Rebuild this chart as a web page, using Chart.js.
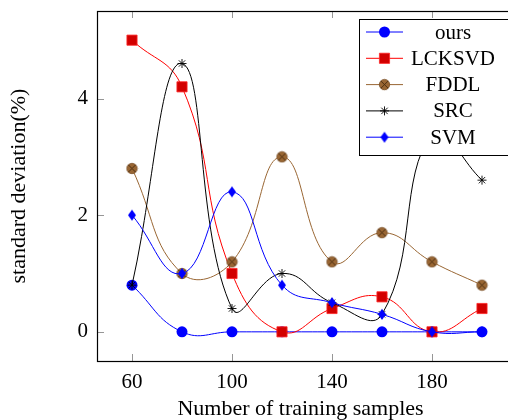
<!DOCTYPE html>
<html>
<head>
<meta charset="utf-8">
<script src="https://cdn.jsdelivr.net/npm/chart.js@4/dist/chart.umd.min.js"></script>
<style>
html,body{margin:0;padding:0;background:#fff;overflow:hidden;}
#wrap{width:530px;height:420px;}
</style>
</head>
<body>
<div id="wrap"><canvas id="c" width="530" height="420"></canvas></div>
<script>
// ---- data ----
const samples = [60, 80, 100, 120, 140, 160, 180, 200];
const ours   = [0.8, 0, 0, 0, 0, 0, 0, 0];
const lcksvd = [5.0, 4.2, 1.0, 0, 0.4, 0.6, 0, 0.4];
const fddl   = [2.8, 1.0, 1.2, 3.0, 1.2, 1.7, 1.2, 0.8];
const src    = [0.8, 4.6, 0.4, 1.0, 0.5, 0.3, 3.4, 2.6];
const svm    = [2.0, 1.0, 2.4, 0.8, 0.5, 0.3, 0, 0];
const seriesNames = ['ours', 'LCKSVD', 'FDDL', 'SRC', 'SVM'];
const xTicks = [60, 100, 140, 180];
const yTicks = [0, 2, 4];
const xTitle = 'Number of training samples';
const yTitle = 'standard deviation(%)';

const FONT = '"Liberation Serif", "DejaVu Serif", serif';
const FS = 21;
const TFS = 22;

function pts(vals){ return samples.map((x,i)=>({x:x,y:vals[i]})); }

function otimes(r, fill, stroke){
  const c = document.createElement('canvas');
  const s = Math.ceil(r*2+2); c.width = s; c.height = s;
  const g = c.getContext('2d'); const m = s/2;
  g.beginPath(); g.arc(m,m,r,0,Math.PI*2); g.fillStyle = fill; g.fill();
  g.lineWidth = 0.8; g.strokeStyle = stroke; g.stroke();
  const d = r*0.7;
  g.beginPath(); g.moveTo(m-d,m-d); g.lineTo(m+d,m+d); g.moveTo(m+d,m-d); g.lineTo(m-d,m+d);
  g.lineWidth = 0.9; g.strokeStyle = 'rgba(60,35,10,0.9)'; g.stroke();
  return c;
}
function diamond(w, h, fill){
  const c = document.createElement('canvas');
  c.width = Math.ceil(w+2); c.height = Math.ceil(h+2);
  const g = c.getContext('2d'); const mx = c.width/2, my = c.height/2;
  g.beginPath(); g.moveTo(mx,my-h/2); g.lineTo(mx+w/2,my); g.lineTo(mx,my+h/2); g.lineTo(mx-w/2,my); g.closePath();
  g.fillStyle = fill; g.fill();
  return c;
}
const BROWN = 'rgb(153,102,51)';
const fddlMarker = otimes(5.2, 'rgb(153,102,51)', 'rgb(120,78,38)');
const svmMarker = diamond(8, 11, 'rgb(0,0,255)');

const datasets = [
  {label: seriesNames[0], data: pts(ours), borderColor:'rgb(0,0,255)', backgroundColor:'rgb(0,0,255)',
   pointStyle:'circle', pointRadius:5.5, pointBorderWidth:0, order:5},
  {label: seriesNames[1], data: pts(lcksvd), borderColor:'rgb(255,0,0)', backgroundColor:'rgb(210,0,0)',
   pointBorderColor:'rgb(255,40,40)', pointStyle:'rect', pointRadius:7.2, pointBorderWidth:0.8, order:4},
  {label: seriesNames[2], data: pts(fddl), borderColor:BROWN, backgroundColor:BROWN,
   pointStyle:fddlMarker, pointRadius:5, order:3},
  {label: seriesNames[3], data: pts(src), borderColor:'rgb(0,0,0)', backgroundColor:'rgb(0,0,0)',
   pointStyle:'star', pointRadius:4.5, pointBorderWidth:0.9, pointBorderColor:'rgb(0,0,0)', order:2},
  {label: seriesNames[4], data: pts(svm), borderColor:'rgb(0,0,255)', backgroundColor:'rgb(0,0,255)',
   pointStyle:svmMarker, pointRadius:5, order:1}
];
datasets.forEach(d=>{ d.borderWidth = 1; d.tension = 0.45; d.fill = false; d.pointHoverRadius = d.pointRadius; });

const framePlugin = {
  id:'frame',
  afterDatasetsDraw(chart){
    const {ctx, chartArea:a, scales:{x,y}} = chart;
    ctx.save();
    ctx.strokeStyle = 'rgb(150,150,150)'; ctx.lineWidth = 1;
    ctx.beginPath();
    xTicks.forEach(v=>{ const px = Math.round(x.getPixelForValue(v))+0.5;
      ctx.moveTo(px,a.bottom); ctx.lineTo(px,a.bottom-7);
      ctx.moveTo(px,a.top); ctx.lineTo(px,a.top+7); });
    yTicks.forEach(v=>{ const py = Math.round(y.getPixelForValue(v))+0.5;
      ctx.moveTo(a.left,py); ctx.lineTo(a.left+7,py);
      ctx.moveTo(a.right,py); ctx.lineTo(a.right-7,py); });
    ctx.stroke();
    ctx.strokeStyle = '#000'; ctx.lineWidth = 1.2;
    ctx.strokeRect(Math.round(a.left)+0.5, Math.round(a.top)+0.5, Math.round(a.right-a.left), Math.round(a.bottom-a.top));
    // x-axis title
    ctx.fillStyle = '#000'; ctx.font = TFS + 'px ' + FONT; ctx.textAlign = 'center'; ctx.textBaseline = 'alphabetic';
    ctx.fillText(xTitle, 300.5, 415);
    // legend
    const lx = 359.5, ly = 19.5, lw = 200, lh = 136;
    ctx.fillStyle = '#fff'; ctx.fillRect(lx, ly, lw, lh);
    ctx.strokeStyle = '#000'; ctx.lineWidth = 1; ctx.strokeRect(lx, ly, lw, lh);
    ctx.font = FS + 'px ' + FONT; ctx.textAlign = 'center'; ctx.textBaseline = 'middle';
    chart.data.datasets.forEach((d,i)=>{
      const cy = 32 + i*26.3;
      ctx.strokeStyle = d.borderColor; ctx.lineWidth = 1;
      ctx.beginPath(); ctx.moveTo(366, cy); ctx.lineTo(403, cy); ctx.stroke();
      ctx.fillStyle = d.backgroundColor; ctx.strokeStyle = d.pointBorderColor || d.borderColor;
      ctx.lineWidth = d.pointBorderWidth || 0;
      Chart.helpers.drawPoint(ctx, {pointStyle:d.pointStyle, radius:d.pointRadius, rotation:0, borderWidth:d.pointBorderWidth||0}, 384.5, cy);
      ctx.fillStyle = '#000';
      ctx.fillText(d.label, 453, cy+1);
    });
    ctx.restore();
  }
};

new Chart(document.getElementById('c'), {
  type:'line',
  data:{datasets},
  options:{
    responsive:false, animation:false, devicePixelRatio:1,
    layout:{padding:{top:11, right:13, left:0, bottom:0}},
    plugins:{legend:{display:false}, tooltip:{enabled:false}},
    scales:{
      x:{type:'linear', min:46, max:214,
         afterBuildTicks(s){ s.ticks = xTicks.map(v=>({value:v})); },
         afterFit(s){ s.height = 59; s.paddingLeft = 0; s.paddingRight = 0; },
         grid:{display:false, drawTicks:false}, border:{display:false},
         ticks:{font:{family:FONT,size:FS}, color:'#000', padding:9, maxRotation:0},
         title:{display:false}
      },
      y:{type:'linear', min:-0.5, max:5.5,
         afterBuildTicks(s){ s.ticks = yTicks.map(v=>({value:v})); },
         afterFit(s){ s.width = 97; s.paddingTop = 0; s.paddingBottom = 0; },
         grid:{display:false, drawTicks:false}, border:{display:false},
         ticks:{font:{family:FONT,size:FS}, color:'#000', padding:9},
         title:{display:true, text:yTitle, font:{family:FONT,size:TFS}, color:'#000', padding:{top:6,bottom:0}}
      }
    }
  },
  plugins:[framePlugin]
});
</script>
</body>
</html>
